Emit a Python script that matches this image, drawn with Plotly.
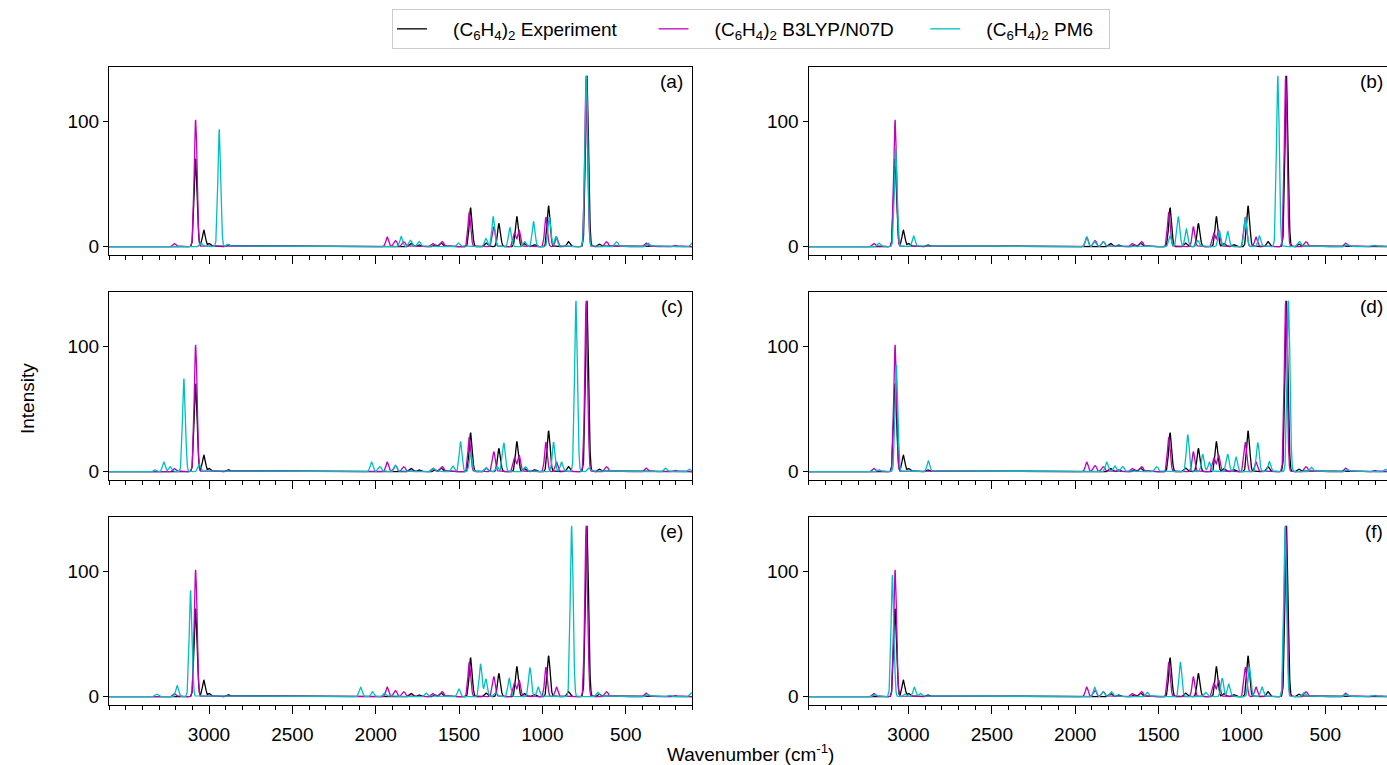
import numpy as np
import plotly.graph_objects as go

# ---------------- data ----------------
# peak positions (cm^-1) and peak heights (intensity) of each spectrum
EXP_CENTERS = [3080, 3030, 2995, 2880, 1784, 1734, 1640, 1604, 1430, 1334, 1260, 1152, 1104, 1044, 962, 842, 732, 654]
EXP_HEIGHTS = [70, 13, 2.5, 1.5, 2.5, 1.5, 1.5, 3, 31, 3, 18.5, 24, 2.5, 1.5, 32.5, 4, 136, 2]

B3LYP_CENTERS = [3204, 3080, 1930, 1880, 1830, 1654, 1600, 1438, 1290, 1166, 1138, 978, 914, 737, 614, 374, 200]
B3LYP_HEIGHTS = [2.5, 101, 7.5, 4.8, 4, 2.5, 4, 27.5, 16, 11, 13, 23.5, 7.5, 136, 4, 3, 1]

PM6_A_CENTERS = [3044, 2938, 2884, 1846, 1790, 1738, 1500, 1338, 1294, 1194, 1104, 1052, 958, 918, 736, 554, 362, 100]
PM6_A_HEIGHTS = [3, 93.4, 2, 8, 5, 4, 3, 6.5, 24, 15, 4, 20, 23.5, 8, 136, 4, 3, 3]

PM6_B_CENTERS = [3174, 3076, 2968, 1930, 1880, 1830, 1430, 1380, 1332, 1264, 1134, 1084, 978, 894, 784, 654, 364, 214]
PM6_B_HEIGHTS = [3, 78, 8.4, 7.5, 4, 4, 8.5, 24, 14, 5, 12.5, 12, 23.5, 8.5, 136, 4, 2, 1]

PM6_C_CENTERS = [3320, 3270, 3230, 3150, 3058, 2024, 1974, 1880, 1650, 1534, 1490, 1430, 1334, 1270, 1230, 1100, 932, 884, 798, 718, 258, 114]
PM6_C_HEIGHTS = [1.5, 7.5, 4, 74, 6, 7.5, 4, 5, 3, 4.5, 24, 14, 3, 4, 23, 4, 23.5, 7.5, 136, 3, 3, 2]

PM6_D_CENTERS = [3174, 3072, 2880, 1810, 1760, 1714, 1510, 1324, 1234, 1194, 1084, 1034, 904, 834, 720, 580, 364, 134]
PM6_D_HEIGHTS = [1.5, 85, 8.5, 7.5, 4.5, 4, 4, 29.5, 14, 7.5, 14, 11.5, 23, 8, 136, 3.5, 2, 2]

PM6_E_CENTERS = [3310, 3190, 3110, 2088, 2018, 1944, 1694, 1500, 1370, 1338, 1278, 1198, 1074, 1024, 824, 664, 364, 234, 104]
PM6_E_HEIGHTS = [2, 8.7, 84.6, 7.4, 4, 3, 3, 6, 26, 14, 3, 14.5, 23, 7.5, 136, 3.5, 2, 1, 3]

PM6_F_CENTERS = [3198, 3096, 3018, 2964, 2924, 1882, 1830, 1780, 1564, 1368, 1214, 1118, 1078, 954, 878, 740, 624, 374, 214]
PM6_F_HEIGHTS = [1.5, 96.8, 2, 7.4, 2.7, 7.4, 4, 4, 3.5, 27.5, 3.5, 14.6, 10, 23.5, 7.5, 136, 3.5, 2, 1]

PANEL_LABELS = ["(a)", "(b)", "(c)", "(d)", "(e)", "(f)"]
SERIES_NAMES = ["(C<sub>6</sub>H<sub>4</sub>)<sub>2</sub> Experiment",
                "(C<sub>6</sub>H<sub>4</sub>)<sub>2</sub> B3LYP/N07D",
                "(C<sub>6</sub>H<sub>4</sub>)<sub>2</sub> PM6"]
X_TICKS = [3000, 2500, 2000, 1500, 1000, 500]
Y_TICKS = [0, 100]

PM6_SETS = [(PM6_A_CENTERS, PM6_A_HEIGHTS), (PM6_B_CENTERS, PM6_B_HEIGHTS),
            (PM6_C_CENTERS, PM6_C_HEIGHTS), (PM6_D_CENTERS, PM6_D_HEIGHTS),
            (PM6_E_CENTERS, PM6_E_HEIGHTS), (PM6_F_CENTERS, PM6_F_HEIGHTS)]

# ---------------- spectra: stick spectra with Gaussian line broadening ----------------
GRID = np.arange(100.0, 3601.0, 1.0)


def broaden(centers, heights, sigma):
    c = np.asarray(centers, float)[:, None]
    h = np.asarray(heights, float)[:, None]
    return (h * np.exp(-0.5 * ((GRID[None, :] - c) / sigma) ** 2)).sum(axis=0)


exp_y = broaden(EXP_CENTERS, EXP_HEIGHTS, 9.0)
b3_y = broaden(B3LYP_CENTERS, B3LYP_HEIGHTS, 8.5)

# ---------------- layout geometry (pixels of the 1387x765 page) ----------------
W, H = 1387, 765
COLS = [(109.0, 692.4, 100.0), (808.5, 1387.0, 129.5)]
ROWS = [(67.3, 255.0), (292.3, 480.0), (517.3, 705.0)]
FONT = "Liberation Sans, Arial, Helvetica, sans-serif"
FS = 19
BLACK, MAGENTA, CYAN = "#000000", "#BF00BF", "#00BFBF"
NB = "\u00a0"
LEGEND_NAMES = [NB * 4 + SERIES_NAMES[0] + NB * 6,
                NB * 4 + SERIES_NAMES[1] + NB * 5,
                NB * 4 + SERIES_NAMES[2] + NB * 2]

fig = go.Figure()
layout = {}
annotations = []

for i in range(6):
    r, c = divmod(i, 2)
    x0, x1, xend = COLS[c]
    top, bot = ROWS[r]
    xa = "x" if i == 0 else f"x{i+1}"
    ya = "y" if i == 0 else f"y{i+1}"
    pm_c, pm_h = PM6_SETS[i]
    pm_y = broaden(pm_c, pm_h, 8.5)
    for name, yv, col in zip(LEGEND_NAMES, [exp_y, b3_y, pm_y], [BLACK, MAGENTA, CYAN]):
        fig.add_trace(go.Scatter(x=GRID, y=yv, mode="lines", name=name,
                                 line=dict(color=col, width=1.3),
                                 legendgroup=name, showlegend=(i == 0),
                                 xaxis=xa, yaxis=ya, hoverinfo="skip"))
    layout["xaxis" if i == 0 else f"xaxis{i+1}"] = dict(
        domain=[x0 / W, x1 / W], range=[3600, xend], anchor=ya,
        showline=True, linecolor="black", linewidth=1, mirror=True,
        showgrid=False, zeroline=False, automargin=False,
        tickmode="array", tickvals=X_TICKS, ticks="outside", ticklen=8,
        tickwidth=1, tickcolor="black", showticklabels=(r == 2),
        ticklabelstandoff=4,
        tickfont=dict(family=FONT, size=FS, color="black"),
        minor=dict(tickmode="linear", tick0=0, dtick=100, ticks="outside",
                   ticklen=4, tickwidth=1, tickcolor="black", showgrid=False),
    )
    layout["yaxis" if i == 0 else f"yaxis{i+1}"] = dict(
        domain=[1 - bot / H, 1 - top / H], range=[-6.7, 142.8], anchor=xa,
        showline=True, linecolor="black", linewidth=1, mirror=(c == 0),
        showgrid=False, zeroline=False, automargin=False,
        tickmode="array", tickvals=Y_TICKS, ticks="outside", ticklen=5,
        tickwidth=1, tickcolor="black",
        tickfont=dict(family=FONT, size=FS, color="black"),
    )
    lab_right = 685 if c == 0 else 1385
    annotations.append(dict(text=PANEL_LABELS[i], xref="paper", yref="paper",
                            x=lab_right / W, y=1 - (top + 2) / H, xanchor="right", yanchor="top",
                            showarrow=False, font=dict(family=FONT, size=FS, color="black")))

annotations.append(dict(text="Intensity", xref="paper", yref="paper", x=27 / W, y=1 - 399 / H,
                        xanchor="center", yanchor="middle", textangle=-90, showarrow=False,
                        font=dict(family=FONT, size=FS, color="black")))
annotations.append(dict(text="Wavenumber (cm<sup>-1</sup>)", xref="paper", yref="paper",
                        x=750 / W, y=1 - 753 / H, xanchor="center", yanchor="middle",
                        showarrow=False, font=dict(family=FONT, size=FS, color="black")))

fig.update_layout(
    width=W, height=H, margin=dict(l=0, r=0, t=0, b=0),
    paper_bgcolor="white", plot_bgcolor="white",
    font=dict(family=FONT, size=FS, color="black"),
    annotations=annotations,
    legend=dict(orientation="h", x=392 / W, y=1 - 29 / H, xanchor="left", yanchor="middle",
                bgcolor="white", bordercolor="#cccccc", borderwidth=1,
                font=dict(family=FONT, size=FS, color="black"), itemwidth=30),
    showlegend=True,
    **layout,
)

fig.write_html("out.html", config={"displayModeBar": False},
               post_script="document.body.style.margin='0px';")
